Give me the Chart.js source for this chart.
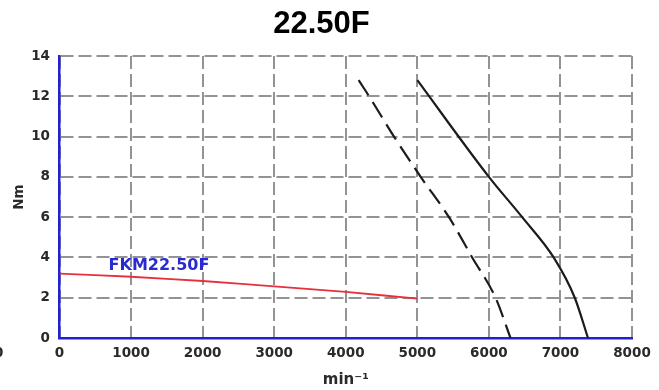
<!DOCTYPE html>
<html>
<head>
<meta charset="utf-8">
<title>22.50F</title>
<script src="https://cdn.jsdelivr.net/npm/chart.js@4"></script>
<style>
  html, body { margin: 0; padding: 0; background: #ffffff; }
  canvas { display: block; }
</style>
</head>
<body>
<canvas id="chart" width="659" height="390"></canvas>
<script>
// Speed axis (min^-1) and torque axis (Nm) tick values
const rpmTicks = [0, 1000, 2000, 3000, 4000, 5000, 6000, 7000, 8000];
const torqueTicks = [0, 2, 4, 6, 8, 10, 12, 14];

// FKM22.50F rated torque curve (red)
const ratedRpm = [0, 1000, 2000, 3000, 4000, 5000];
const ratedTorque = [3.2, 3.04, 2.83, 2.56, 2.29, 1.95];

// Peak torque limit, solid black
const peakRpm = [5000, 6000, 6465, 6905, 7200, 7385];
const peakTorque = [12.8, 8.0, 6.0, 4.0, 2.0, 0];

// Peak torque limit, dashed black
const dashRpm = [4180, 4326, 4674, 5047, 5442, 5767, 6093, 6302];
const dashTorque = [12.8, 12.0, 10.0, 8.0, 6.0, 4.0, 2.0, 0];

const motorLabel = 'FKM22.50F';
const motorLabelAt = { rpm: 1390, torque: 3.57 };

const toPoints = (xs, ys) => xs.map((x, i) => ({ x: x, y: ys[i] }));

const tickFont = { family: '"DejaVu Sans", Verdana, sans-serif', size: 13.5, weight: 'bold', lineHeight: 1.2 };
const tickColor = '#2a2a2a';
const axisBlue = '#2020d4';
const gridGray = '#939393';

const curveLabels = {
  id: 'curveLabels',
  afterDatasetsDraw(chart) {
    const { ctx, scales } = chart;
    ctx.save();
    ctx.font = 'bold 16px "DejaVu Sans", Verdana, sans-serif';
    ctx.fillStyle = '#2a2ad2';
    ctx.textAlign = 'center';
    ctx.textBaseline = 'middle';
    ctx.fillText(motorLabel, scales.x.getPixelForValue(motorLabelAt.rpm), scales.y.getPixelForValue(motorLabelAt.torque));
    // neighbouring panel's axis zero at the left edge
    ctx.font = 'bold 13.5px "DejaVu Sans", Verdana, sans-serif';
    ctx.fillStyle = tickColor;
    ctx.textAlign = 'right';
    ctx.fillText('0', 3.4, 353);
    ctx.restore();
  }
};

new Chart(document.getElementById('chart'), {
  type: 'line',
  data: {
    datasets: [
      {
        data: toPoints(ratedRpm, ratedTorque),
        borderColor: '#e8303c',
        borderWidth: 1.8,
        pointRadius: 0,
        tension: 0.2,
        fill: false
      },
      {
        data: toPoints(peakRpm, peakTorque),
        borderColor: '#1c1c1c',
        borderWidth: 2.2,
        pointRadius: 0,
        cubicInterpolationMode: 'monotone',
        fill: false
      },
      {
        data: toPoints(dashRpm, dashTorque),
        borderColor: '#1c1c1c',
        borderWidth: 2.2,
        borderDash: [18, 8],
        pointRadius: 0,
        cubicInterpolationMode: 'monotone',
        fill: false
      }
    ]
  },
  options: {
    responsive: false,
    animation: false,
    events: [],
    layout: { padding: { left: 11, right: 27, top: 0, bottom: 0 } },
    plugins: {
      legend: { display: false },
      tooltip: { enabled: false },
      title: {
        display: true,
        text: '22.50F',
        color: '#000000',
        font: { family: '"Liberation Sans", Arial, sans-serif', size: 31, weight: 'bold', lineHeight: 1.2 },
        padding: { top: 5.4, bottom: 13.4 }
      }
    },
    scales: {
      x: {
        type: 'linear',
        min: rpmTicks[0],
        max: rpmTicks[rpmTicks.length - 1],
        afterBuildTicks(scale) { scale.ticks = rpmTicks.map(v => ({ value: v })); },
        ticks: {
          padding: 7, color: tickColor, font: tickFont, maxRotation: 0, autoSkip: false,
          callback: v => String(v)
        },
        grid: { color: gridGray, lineWidth: 2, drawTicks: false },
        border: { color: axisBlue, width: 2.5, dash: [13, 5] },
        title: {
          display: true,
          text: 'min\u207B\u00B9',
          color: tickColor,
          font: { family: '"DejaVu Sans", Verdana, sans-serif', size: 15, weight: 'bold', lineHeight: 1.2 },
          padding: { top: 0, bottom: 1 }
        },
        afterFit(scale) { scale.height = 52; scale.paddingLeft = 0; scale.paddingRight = 0; }
      },
      y: {
        type: 'linear',
        min: torqueTicks[0],
        max: torqueTicks[torqueTicks.length - 1],
        afterBuildTicks(scale) { scale.ticks = torqueTicks.map(v => ({ value: v })); },
        ticks: { padding: 9.5, color: tickColor, font: tickFont, autoSkip: false, callback: v => String(v) },
        grid: { color: gridGray, lineWidth: 2, drawTicks: false },
        border: { color: axisBlue, width: 2.5, dash: [13, 5] },
        title: {
          display: true,
          text: 'Nm',
          color: tickColor,
          font: tickFont,
          padding: { top: 0, bottom: 0 }
        },
        afterFit(scale) { scale.width = 48.5; scale.paddingTop = 0; scale.paddingBottom = 0; }
      }
    }
  },
  plugins: [curveLabels]
});
</script>
</body>
</html>
